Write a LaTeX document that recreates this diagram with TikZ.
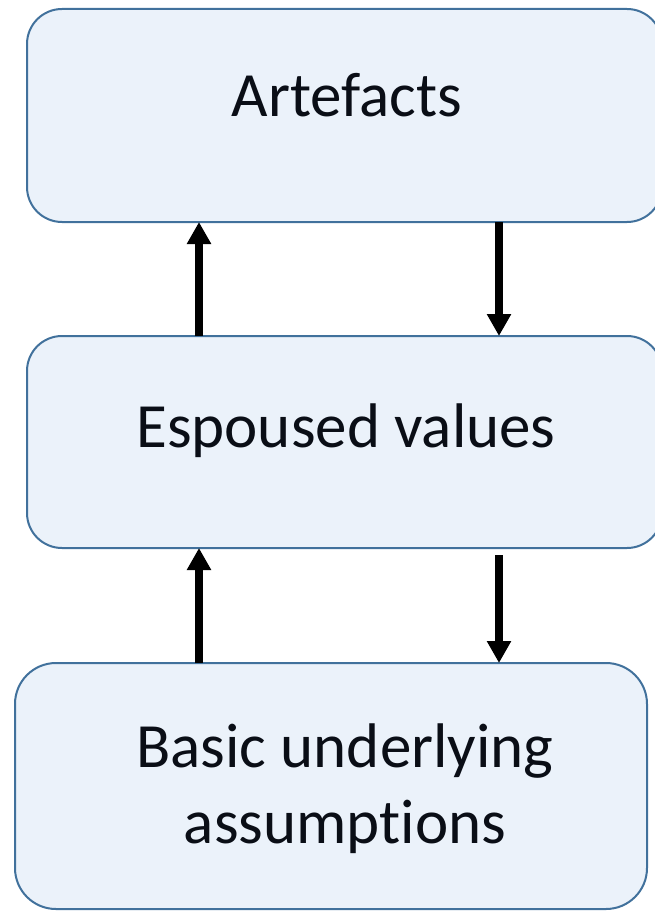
\documentclass[tikz,border=0pt]{standalone}
\usepackage{fontspec}
\setmainfont{Carlito}[RawFeature=-liga]
\usetikzlibrary{arrows.meta}
\definecolor{boxfill}{HTML}{EBF2FA}
\definecolor{boxline}{HTML}{41719C}
\definecolor{txt}{HTML}{0A0E16}
\tikzset{
  box/.style={draw=boxline, fill=boxfill, line width=2pt, inner sep=0pt, outer sep=0pt},
  lbl/.style={font=\fontsize{63}{69}\selectfont, text=txt, inner sep=0pt, align=center},
  arr/.style={line width=8pt, -{Triangle[width=23pt,length=22pt]}},
}
\begin{document}
\begin{tikzpicture}[x=1pt,y=-1pt]
\useasboundingbox (0,0) rectangle (654,912);
\node[box, rounded corners=35pt, minimum width=635pt, minimum height=213pt] (b1) at (344.5,115.5) {};
\node[box, rounded corners=35pt, minimum width=635pt, minimum height=212pt] (b2) at (344.5,442) {};
\node[box, rounded corners=41pt, minimum width=632pt, minimum height=246pt] (b3) at (331,786) {};
\node[lbl, anchor=base] (t1) at (347,117) {Artefacts};
\node[lbl, anchor=base] (t2) at (346,447) {Espoused values};
\node[lbl, anchor=base] (t3) at (345,767) {Basic underlying};
\node[lbl, anchor=base] (t4) at (345,843) {assumptions};
\coordinate (xl) at (199,0);
\coordinate (xr) at (499,0);
\coordinate (s2) at (499,555);
\draw[arr] (b2.north -| xl) -- (b1.south -| xl);
\draw[arr] (b1.south -| xr) -- (b2.north -| xr);
\draw[arr] (b3.north -| xl) -- (b2.south -| xl);
\draw[arr] (s2) -- (b3.north -| xr);
\end{tikzpicture}
\end{document}
